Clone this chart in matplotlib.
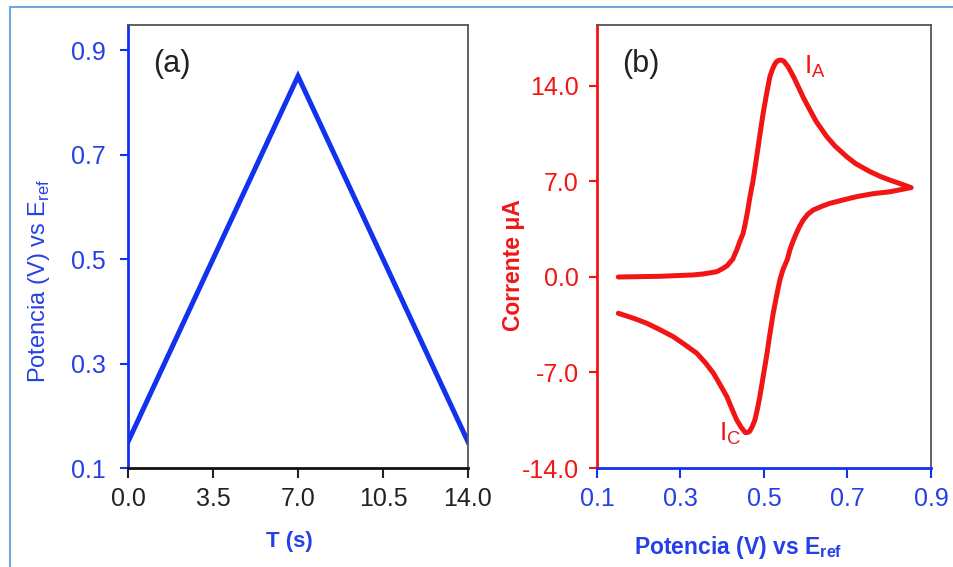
import matplotlib
matplotlib.use('Agg')
import matplotlib.pyplot as plt
from matplotlib.lines import Line2D

plt.rcParams['font.family'] = ['Liberation Sans', 'DejaVu Sans']
plt.rcParams['mathtext.fontset'] = 'custom'
plt.rcParams['mathtext.rm'] = 'Liberation Sans'
plt.rcParams['mathtext.bf'] = 'Liberation Sans:bold'

# (a) barrido triangular del potencial
t_s = [0.0, 7.0, 14.0]
potencial_a = [0.15, 0.85, 0.15]
xt_a = [0.0, 3.5, 7.0, 10.5, 14.0]
yt_a = [0.1, 0.3, 0.5, 0.7, 0.9]

# (b) voltametria ciclica: barrido de ida y de vuelta
e_ida = [0.151, 0.25, 0.33, 0.354, 0.37, 0.387, 0.40, 0.411, 0.425, 0.435, 0.442, 0.450,
         0.455, 0.460, 0.466, 0.474, 0.480, 0.486, 0.492, 0.498, 0.506, 0.514, 0.520,
         0.525, 0.530, 0.535, 0.542, 0.548, 0.558, 0.565, 0.572, 0.582, 0.595, 0.610,
         0.625, 0.650, 0.670, 0.698, 0.720, 0.754, 0.780, 0.802, 0.830, 0.852]
i_ida = [0.0, 0.05, 0.15, 0.22, 0.3, 0.39, 0.6, 0.81, 1.3, 2.0, 2.6, 3.2,
         3.9, 4.7, 5.8, 7.1, 8.3, 9.55, 10.8, 12.0, 13.4, 14.68, 15.2,
         15.55, 15.78, 15.88, 15.9, 15.8, 15.4, 15.0, 14.6, 13.95, 13.1, 12.24,
         11.4, 10.3, 9.6, 8.82, 8.3, 7.72, 7.35, 7.1, 6.8, 6.55]
e_vuelta = [0.852, 0.802, 0.760, 0.722, 0.690, 0.658, 0.640, 0.618, 0.605, 0.594, 0.585,
            0.576, 0.568, 0.562, 0.556, 0.545, 0.538, 0.530, 0.522, 0.514, 0.506, 0.498,
            0.490, 0.484, 0.478, 0.472, 0.466, 0.462, 0.458, 0.455, 0.450, 0.445, 0.435,
            0.425, 0.411, 0.395, 0.379, 0.360, 0.339, 0.310, 0.283, 0.250, 0.219, 0.190, 0.151]
i_vuelta = [6.55, 6.25, 6.1, 5.89, 5.65, 5.40, 5.2, 4.91, 4.6, 4.18, 3.7,
            3.1, 2.5, 1.98, 1.3, 0.5, -0.22, -1.4, -2.66, -4.2, -5.84, -7.3,
            -8.77, -9.7, -10.5, -10.95, -11.3, -11.38, -11.4, -11.4, -11.2, -11.0, -10.5,
            -9.8, -8.77, -7.9, -7.06, -6.3, -5.59, -4.95, -4.38, -3.85, -3.39, -3.05, -2.66]
xt_b = [0.1, 0.3, 0.5, 0.7, 0.9]
yt_b = [-14.0, -7.0, 0.0, 7.0, 14.0]

azul = '#1233ee'
azul_txt = '#2540e6'
rojo = '#f21515'
gris = '#555555'

fig = plt.figure(figsize=(9.54, 5.67), dpi=100)
ax1 = fig.add_axes([128/954, 99/567, 340/954, 443/567])
ax2 = fig.add_axes([597/954, 99/567, 334/954, 443/567])

# ---- panel (a)
ax1.plot(t_s, potencial_a, color=azul, lw=3.6, solid_joinstyle='miter')
ax1.set_xlim(0, 14)
ax1.set_ylim(0.1, 0.948)
ax1.set_xticks(xt_a)
ax1.set_xticklabels(['%.1f' % v for v in xt_a])
ax1.set_yticks(yt_a)
ax1.set_yticklabels(['%.1f' % v for v in yt_a])
ax1.tick_params(axis='x', colors='#222222', labelsize=18, length=7, width=1.5, pad=7)
ax1.tick_params(axis='y', colors=azul, labelcolor=azul_txt, labelsize=18, length=6, width=1.5, pad=10)
for s in ['top', 'right']:
    ax1.spines[s].set_color(gris)
    ax1.spines[s].set_linewidth(1.3)
ax1.spines['left'].set_color(azul)
ax1.spines['left'].set_linewidth(2)
ax1.spines['bottom'].set_color('#111111')
ax1.spines['bottom'].set_linewidth(2)
ax1.set_xlabel('T (s)', color=azul_txt, fontsize=16, fontweight='bold')
ax1.xaxis.set_label_coords(0.476, -0.142)
ax1.set_ylabel(r'Potencia (V) vs E$_{\mathrm{ref}}$', color=azul_txt, fontsize=17)
ax1.yaxis.set_label_coords(-0.224, 0.423)
ax1.text(0.075, 0.945, '(a)', transform=ax1.transAxes, fontsize=22, color='#222222', va='top')

# ---- panel (b)
ax2.plot(e_ida, i_ida, color=rojo, lw=3.6, solid_capstyle='round', solid_joinstyle='round')
ax2.plot(e_vuelta, i_vuelta, color=rojo, lw=3.6, solid_capstyle='round', solid_joinstyle='round')
ax2.set_xlim(0.1, 0.9)
ax2.set_ylim(-14, 18.47)
ax2.set_xticks(xt_b)
ax2.set_xticklabels(['%.1f' % v for v in xt_b])
ax2.set_yticks(yt_b)
ax2.set_yticklabels(['%.1f' % v for v in yt_b])
ax2.tick_params(axis='x', colors=azul, labelcolor=azul_txt, labelsize=18, length=7, width=1.5, pad=7)
ax2.tick_params(axis='y', colors=rojo, labelsize=18, length=6, width=1.5, pad=7)
for s in ['top', 'right']:
    ax2.spines[s].set_color(gris)
    ax2.spines[s].set_linewidth(1.3)
ax2.spines['left'].set_color(rojo)
ax2.spines['left'].set_linewidth(2)
ax2.spines['bottom'].set_color(azul)
ax2.spines['bottom'].set_linewidth(2)
ax2.set_xlabel(r'Potencia (V) vs E$_{\mathbf{ref}}$', color=azul_txt, fontsize=16.5, fontweight='bold')
ax2.xaxis.set_label_coords(0.422, -0.148)
ax2.set_ylabel('Corrente μA', color=rojo, fontsize=16.5, fontweight='bold')
ax2.yaxis.set_label_coords(-0.216, 0.458)
ax2.text(0.075, 0.945, '(b)', transform=ax2.transAxes, fontsize=22, color='#222222', va='top')
ax2.text(0.597, 14.95, r'I$_\mathrm{A}$', color=rojo, fontsize=19, va='baseline')
ax2.text(0.393, -11.95, r'I$_\mathrm{C}$', color=rojo, fontsize=19, va='baseline')

# marco azul claro del recorte
fig.add_artist(Line2D([10/954, 1.0], [1 - 7/567, 1 - 7/567], color='#6fa8dc', lw=1.5, transform=fig.transFigure))
fig.add_artist(Line2D([10/954, 10/954], [0, 1 - 7/567], color='#6fa8dc', lw=1.5, transform=fig.transFigure))

fig.savefig('out.png', dpi=100)
